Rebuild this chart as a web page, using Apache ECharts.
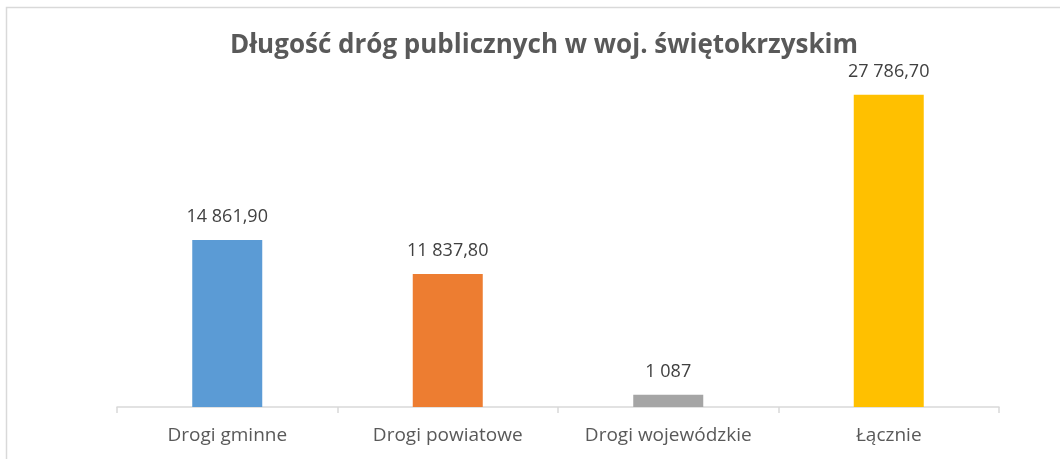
<!DOCTYPE html>
<html>
<head>
<meta charset="utf-8">
<script src="https://cdn.jsdelivr.net/npm/echarts@6/dist/echarts.min.js"></script>
<style>
    html, body { margin: 0; padding: 0; background: #fff; }
    #chart { width: 1060px; height: 459px; }
</style>
</head>
<body>
<div id="chart"></div>
<script>
// dane
const categories = ['Drogi gminne', 'Drogi powiatowe', 'Drogi wojewódzkie', 'Łącznie']
const values = [14861.9, 11837.8, 1087, 27786.7]
const valueLabels = ['14 861,90', '11 837,80', '1 087', '27 786,70']
const colors = ['#5B9BD5', '#ED7D31', '#A5A5A5', '#FFC000']

let myChart = echarts.init(document.getElementById('chart'))
let option = {
    animation: false,
    textStyle: { fontFamily: 'Open Sans' },
    title: {
        text: 'Długość dróg publicznych w woj. świętokrzyskim',
        left: 539,
        textAlign: 'center',
        top: 28,
        textStyle: {
            fontFamily: 'Open Sans',
            fontSize: 26,
            fontWeight: 'bold',
            color: '#595959'
        }
    },
    graphic: [
        {
            type: 'rect',
            shape: { x: 6.5, y: 7.5, width: 1100, height: 500 },
            style: { fill: 'none', stroke: '#d9d9d9', lineWidth: 1.5 },
            silent: true
        }
    ],
    grid: {
        left: 117,
        right: 61,
        top: 70,
        bottom: 52
    },
    xAxis: {
        type: 'category',
        data: categories,
        axisLine: { lineStyle: { color: '#d9d9d9', width: 1.5 } },
        axisTick: { show: true, length: 6, alignWithLabel: false, lineStyle: { color: '#d9d9d9', width: 1.5 } },
        axisLabel: { color: '#595959', fontSize: 19, margin: 19 }
    },
    yAxis: {
        type: 'value',
        min: 0,
        max: 30000,
        show: false,
        splitLine: { show: false }
    },
    series: [
        {
            type: 'bar',
            barWidth: 70,
            data: values.map((v, i) => ({ value: v, itemStyle: { color: colors[i] } })),
            label: {
                show: true,
                position: 'top',
                distance: 14,
                color: '#404040',
                fontSize: 18,
                formatter: p => valueLabels[p.dataIndex]
            }
        }
    ]
}
myChart.setOption(option)
</script>
</body>
</html>
